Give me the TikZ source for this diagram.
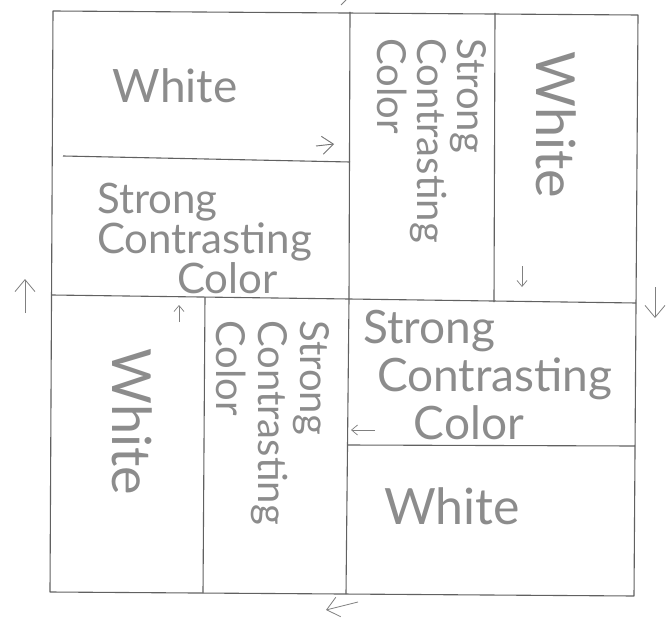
\documentclass[tikz,border=0pt]{standalone}
\usepackage{fontspec}
\setmainfont{Lato}
\usetikzlibrary{arrows.meta}
\begin{document}
\begin{tikzpicture}[x=1pt,y=-1pt,
  frame/.style={draw=black!62, line width=1.1pt, line join=round},
  hand/.style n args={2}{text=black!45, inner sep=0pt, font=\fontsize{#1}{#2}\selectfont},
  harrow/.style={draw=black!50, line width=0.8pt, -{Straight Barb[length=12pt,width=20pt]}},
  sarrow/.style={draw=black!50, line width=0.7pt, -{Straight Barb[length=6pt,width=10pt]}},
  marrow/.style={draw=black!55, line width=0.9pt, -{Straight Barb[length=11pt,width=18pt]}}
]
\useasboundingbox (0,0) rectangle (669,623);
\fill[white] (0,0) rectangle (669,623);
% frame corners
\coordinate (TL) at (53,11);
\coordinate (TR) at (638,15);
\coordinate (BR) at (634,596);
\coordinate (BL) at (50,592);
\draw[frame] (TL) -- (TR) -- (BR) -- (BL) -- cycle;
% middle horizontal
\coordinate (ML) at (52,295);
\coordinate (MM) at (349,299);
\coordinate (MR) at (636,303);
\draw[frame] (ML) -- (MM) -- (MR);
% top dividers
\coordinate (V1t) at (350,12);
\coordinate (V2t) at (495,13);
\coordinate (V2b) at (494,302);
\draw[frame] (V1t) -- (MM);
\draw[frame] (V2t) -- (V2b);
\coordinate (H1l) at (63,156);
\coordinate (H1r) at (350,162);
\draw[frame] (H1l) -- (H1r);
% bottom dividers
\coordinate (V3t) at (205,297);
\coordinate (V3b) at (203,593);
\draw[frame] (V3t) -- (V3b);
\coordinate (V4b) at (346,594);
\draw[frame] (MM) -- (V4b);
\coordinate (H2l) at (347,445);
\coordinate (H2r) at (635,446);
\draw[frame] (H2l) -- (H2r);

% texts
\node[hand={46}{44}] (w1) at (175,86) {White};
\node[hand={42}{40}, align=left, anchor=north west] (s1) at (97,183) {Strong\\Contrasting\\\hspace*{1.9em}Color};
\node[hand={40}{40}, align=left, rotate=-90, anchor=north west] (s2) at (487,38) {Strong\\Contrasting\\Color};
\node[hand={54}{54}, rotate=-90] (w2) at (556,125) {White};
\node[hand={54}{54}, rotate=-90] (w3) at (132,422) {White};
\node[hand={40}{42}, align=left, rotate=-90, anchor=north west] (s3) at (330,320) {Strong\\Contrasting\\Color};
\node[hand={46}{48}, align=left, anchor=north west] (s4) at (363,310) {Strong\\\hspace*{0.3em}Contrasting\\\hspace*{1.1em}Color};
\node[hand={50}{50}] (w4) at (452,506) {White};

% small arrows
\coordinate (a1s) at (316,146); \coordinate (a1e) at (334,144);
\draw[marrow] (a1s) -- (a1e);
\coordinate (a2s) at (522,266); \coordinate (a2e) at (522,287);
\draw[sarrow] (a2s) -- (a2e);
\coordinate (a3s) at (179,322); \coordinate (a3e) at (179,305);
\draw[sarrow] (a3s) -- (a3e);
\coordinate (a4s) at (375,430); \coordinate (a4e) at (351,430);
\draw[sarrow] (a4s) -- (a4e);
\coordinate (a5s) at (25,313); \coordinate (a5e) at (25,279);
\draw[harrow] (a5s) -- (a5e);
\coordinate (a6s) at (655,287); \coordinate (a6e) at (655,318);
\draw[harrow] (a6s) -- (a6e);
\coordinate (a7s) at (358,602); \coordinate (a7e) at (326,610);
\draw[harrow] (a7s) -- (a7e);
\coordinate (m1) at (341,5); \coordinate (m2) at (346,0);
\draw[draw=black!50, line width=0.8pt] (m1) -- (m2);
\end{tikzpicture}
\end{document}
